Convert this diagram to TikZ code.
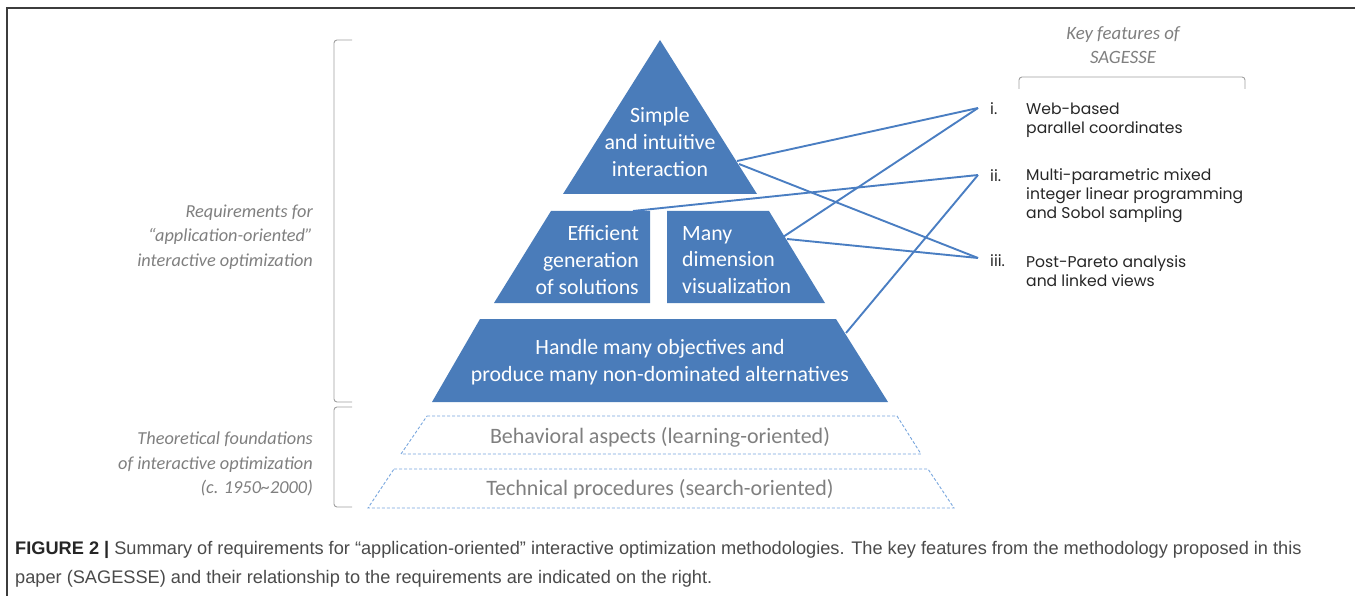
\documentclass[tikz,border=0pt]{standalone}
\usepackage{fontspec}
\setmainfont{Carlito}
\newfontfamily\featfont{Poppins}
\newfontfamily\capfont{Liberation Sans}
\definecolor{pyrfill}{HTML}{4A7CBA}
\definecolor{linkblue}{HTML}{4A7EC2}
\definecolor{dashblue}{HTML}{76A5DD}
\definecolor{labelgray}{HTML}{7F7F7F}
\definecolor{bracketgray}{HTML}{A0A0A0}
\definecolor{framegray}{HTML}{3C3C3C}
\definecolor{captext}{HTML}{4A4A4A}
\tikzset{
  tier/.style={fill=pyrfill, draw=none},
  basetier/.style={draw=dashblue, line width=0.9pt, dash pattern=on 3pt off 2pt},
  pyrtext/.style={text=white, inner sep=0pt, font=\fontsize{21.8}{26.8}\selectfont},
  basetext/.style={text=labelgray, inner sep=0pt, font=\fontsize{22}{24}\selectfont},
  sidelabel/.style={text=labelgray, inner sep=0pt, align=right, anchor=east,
    font=\fontsize{18.3}{24.6}\selectfont\itshape},
  feattext/.style={text=black!85, inner sep=0pt, align=left,
    font=\featfont\fontsize{15.6}{19}\selectfont},
  link/.style={draw=linkblue, line width=1.9pt},
  brace/.style={draw=bracketgray, line width=0.9pt, rounded corners=3pt},
}
\begin{document}
\begin{tikzpicture}[x=1pt, y=-1pt]
\useasboundingbox (0,0) rectangle (1355,596);

% frame lines along the top and left edges
\draw[framegray, line width=1.6pt] (7,596) -- (7,8) -- (1355,8);

% pyramid of requirements
\fill[tier] (660,40) -- (757,194) -- (563,194) -- cycle;
\fill[tier] (551,211) -- (650,211) -- (650,303) -- (494,303) -- cycle;
\fill[tier] (667,211) -- (769,211) -- (825,303) -- (667,303) -- cycle;
\fill[tier] (480,319) -- (836,319) -- (888,402) -- (432,402) -- cycle;

% dashed foundation layers
\draw[basetier] (427,416) -- (897,416) -- (921,454) -- (401,454) -- cycle;
\draw[basetier] (394,469) -- (928,469) -- (954,508) -- (368,508) -- cycle;

% tier texts
\node[pyrtext, align=center] (simple) at (660,142) {Simple\\and intuitive\\interaction};
\node[pyrtext, align=right, anchor=east] (effic) at (639,260) {Efficient\\generation\\of solutions};
\node[pyrtext, align=left, anchor=west] (many) at (682,260) {Many\\dimension\\visualization};
\node[pyrtext, align=center] (handle) at (660,362) {Handle many objectives and\\produce many non-dominated alternatives};
\node[basetext] (behav) at (660,437) {Behavioral aspects (learning-oriented)};
\node[basetext] (tech) at (660,489) {Technical procedures (search-oriented)};

% side brackets and their labels
\draw[brace] (352,40) -- (334,40) -- (334,402) -- (352,402);
\draw[brace] (352,407) -- (334,407) -- (334,507) -- (352,507);
\node[sidelabel] (req) at (313,237) {Requirements for\\“application-oriented”\\interactive optimization};
\node[sidelabel] (theo) at (313,464) {Theoretical foundations\\of interactive optimization\\(c. 1950\textasciitilde 2000)};

% key features column
\node[text=labelgray, inner sep=0pt, align=center,
  font=\fontsize{18.8}{24}\selectfont\itshape] (keyt) at (1123,45) {Key features of\\SAGESSE};
\draw[brace] (1019,89) -- (1019,77) -- (1245,77) -- (1245,89);

\node[feattext, anchor=base west] (n1) at (990,115) {i.};
\node[feattext, anchor=base west] (n2) at (990,182) {ii.};
\node[feattext, anchor=base west] (n3) at (990,266) {iii.};
\node[feattext, anchor=west] (f1) at (1026,120) {Web-based\\parallel coordinates};
\node[feattext, anchor=west] (f2) at (1026,196) {Multi-parametric mixed\\integer linear programming\\and Sobol sampling};
\node[feattext, anchor=west] (f3) at (1026,271) {Post-Pareto analysis\\and linked views};

% connector end points
\coordinate (t1) at (978,108);
\coordinate (t2) at (978,175);
\coordinate (t3) at (978,258);
\coordinate (simpleA) at (737,161);
\coordinate (simpleB) at (739,164);
\coordinate (efficA) at (633,211);
\coordinate (manyA) at (783,237);
\coordinate (manyB) at (787,239);
\coordinate (handleA) at (846,333);

\draw[link] (simpleA) -- (t1);
\draw[link] (simpleB) -- (t3);
\draw[link] (efficA) -- (t2);
\draw[link] (manyA) -- (t1);
\draw[link] (manyB) -- (t3);
\draw[link] (handleA) -- (t2);

% caption
\node[inner sep=0pt, anchor=north west, align=left, text=captext,
  font=\capfont\fontsize{18.2}{29}\selectfont] (caption) at (15,541)
  {{\bfseries\color{black!85}FIGURE 2 |} Summary of requirements for “application-oriented” interactive optimization methodologies. The key features from the methodology proposed in this\\
   paper (SAGESSE) and their relationship to the requirements are indicated on the right.};
\end{tikzpicture}
\end{document}
